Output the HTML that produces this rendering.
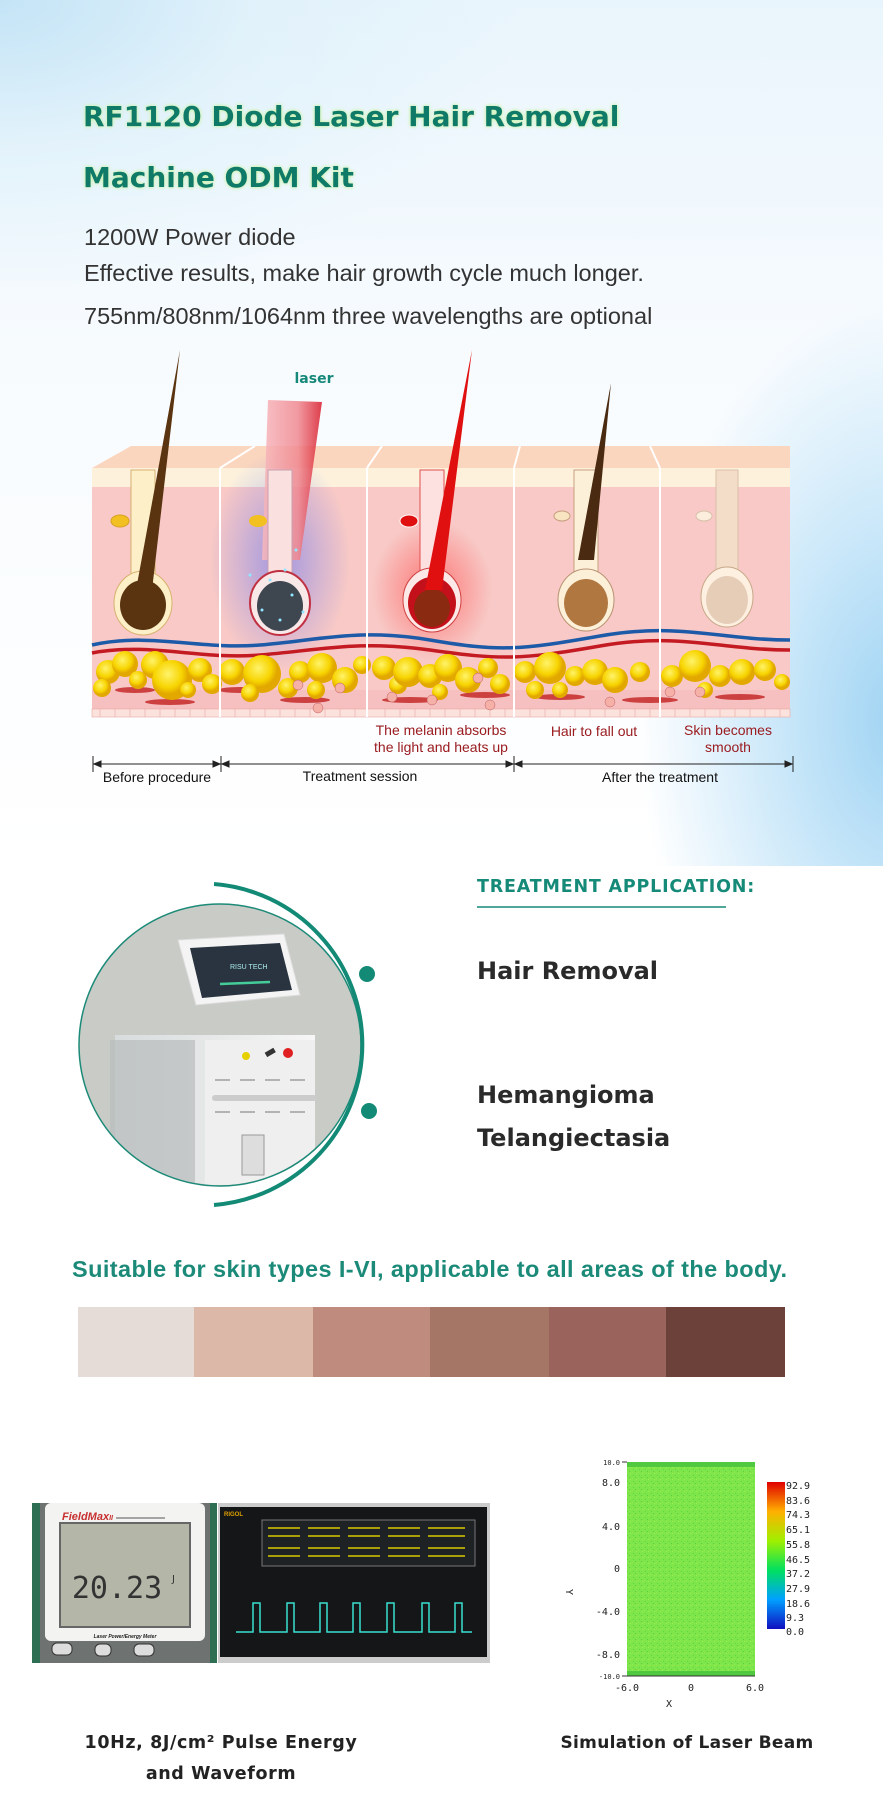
<!DOCTYPE html>
<html><head><meta charset="utf-8"><style>
html,body{margin:0;padding:0;background:#fff}
body{width:883px;height:1814px;position:relative;overflow:hidden;font-family:"Liberation Sans",sans-serif}
.t{position:absolute;white-space:nowrap}
</style></head><body>
<div style="position:absolute;left:0;top:0;width:883px;height:866px;background:
radial-gradient(ellipse 520px 300px at 0px 0px,#c4e4f6 0%,rgba(220,240,250,0.6) 50%,rgba(255,255,255,0) 100%),
radial-gradient(ellipse 260px 420px at 900px 720px,#9fd3f3 0%,#c9e7f9 45%,rgba(255,255,255,0) 100%),
linear-gradient(180deg,#e9f5fc 0%,#f7fbfe 40%,#fff 100%);"></div>

<div class="t" style="left:83px;top:100px;font:bold 28px 'DejaVu Sans',sans-serif;color:#0f7a68;text-shadow:0 0 3px #c6f0a8,0 0 4px #d8f7c0">RF1120 Diode Laser Hair Removal</div>
<div class="t" style="left:83px;top:161px;font:bold 28px 'DejaVu Sans',sans-serif;color:#0f7a68;text-shadow:0 0 3px #c6f0a8,0 0 4px #d8f7c0">Machine ODM Kit</div>
<div class="t" style="left:84px;top:224px;font-size:23.5px;color:#333">1200W Power diode</div>
<div class="t" style="left:84px;top:260px;font-size:23.5px;color:#333">Effective results, make hair growth cycle much longer.</div>
<div class="t" style="left:84px;top:303px;font-size:23.5px;color:#333">755nm/808nm/1064nm three wavelengths are optional</div>

<svg width="883" height="866" style="position:absolute;left:0;top:0">
<defs>
<radialGradient id="redglow"><stop offset="0" stop-color="#ff3030" stop-opacity=".55"/><stop offset="1" stop-color="#ff3030" stop-opacity="0"/></radialGradient>
<radialGradient id="blueglow"><stop offset="0" stop-color="#3a5cff" stop-opacity=".45"/><stop offset="1" stop-color="#3a5cff" stop-opacity="0"/></radialGradient>
<linearGradient id="beam" x1="0" x2="1"><stop offset="0" stop-color="#f7b8bd"/><stop offset=".6" stop-color="#f08890"/><stop offset="1" stop-color="#d81c2c"/></linearGradient>
<radialGradient id="fat" cx=".4" cy=".35"><stop offset="0" stop-color="#fff36a"/><stop offset=".7" stop-color="#f7d400"/><stop offset="1" stop-color="#e2a800"/></radialGradient>
</defs>
<polygon points="92,468 131,446 790,446 790,468" fill="#fbd6be"/>
<rect x="92" y="468" width="698" height="19" fill="#fdf1dc"/>
<rect x="92" y="487" width="698" height="230" fill="#f8c9c6"/>
<rect x="92" y="690" width="698" height="27" fill="#f6bfc0"/>
<rect x="92" y="709" width="698" height="8" fill="#fbe2dc" stroke="#e9a9a4" stroke-width=".6"/>
<g stroke="#e9a9a4" stroke-width=".6">
<line x1="100" y1="709" x2="100" y2="717"/><line x1="115" y1="709" x2="115" y2="717"/><line x1="130" y1="709" x2="130" y2="717"/><line x1="145" y1="709" x2="145" y2="717"/><line x1="160" y1="709" x2="160" y2="717"/><line x1="175" y1="709" x2="175" y2="717"/><line x1="190" y1="709" x2="190" y2="717"/><line x1="205" y1="709" x2="205" y2="717"/><line x1="235" y1="709" x2="235" y2="717"/><line x1="250" y1="709" x2="250" y2="717"/><line x1="265" y1="709" x2="265" y2="717"/><line x1="280" y1="709" x2="280" y2="717"/><line x1="295" y1="709" x2="295" y2="717"/><line x1="310" y1="709" x2="310" y2="717"/><line x1="325" y1="709" x2="325" y2="717"/><line x1="340" y1="709" x2="340" y2="717"/><line x1="355" y1="709" x2="355" y2="717"/><line x1="385" y1="709" x2="385" y2="717"/><line x1="400" y1="709" x2="400" y2="717"/><line x1="415" y1="709" x2="415" y2="717"/><line x1="430" y1="709" x2="430" y2="717"/><line x1="445" y1="709" x2="445" y2="717"/><line x1="460" y1="709" x2="460" y2="717"/><line x1="475" y1="709" x2="475" y2="717"/><line x1="490" y1="709" x2="490" y2="717"/><line x1="505" y1="709" x2="505" y2="717"/><line x1="530" y1="709" x2="530" y2="717"/><line x1="545" y1="709" x2="545" y2="717"/><line x1="560" y1="709" x2="560" y2="717"/><line x1="575" y1="709" x2="575" y2="717"/><line x1="590" y1="709" x2="590" y2="717"/><line x1="605" y1="709" x2="605" y2="717"/><line x1="620" y1="709" x2="620" y2="717"/><line x1="635" y1="709" x2="635" y2="717"/><line x1="650" y1="709" x2="650" y2="717"/><line x1="675" y1="709" x2="675" y2="717"/><line x1="690" y1="709" x2="690" y2="717"/><line x1="705" y1="709" x2="705" y2="717"/><line x1="720" y1="709" x2="720" y2="717"/><line x1="735" y1="709" x2="735" y2="717"/><line x1="750" y1="709" x2="750" y2="717"/><line x1="765" y1="709" x2="765" y2="717"/><line x1="780" y1="709" x2="780" y2="717"/>
</g>
<ellipse cx="432" cy="590" rx="60" ry="70" fill="url(#redglow)"/>
<ellipse cx="280" cy="560" rx="70" ry="110" fill="url(#blueglow)"/>
<path d="M92,645 C150,632 200,650 260,645 S360,628 430,640 S520,650 600,636 S720,640 790,640" stroke="#1d5aa8" stroke-width="3.5" fill="none"/>
<path d="M92,653 C150,642 200,660 260,655 S360,640 430,650 S520,660 600,646 S720,650 790,650" stroke="#c41a22" stroke-width="3.5" fill="none"/>
<g fill="#c52a2a" opacity=".85">
<ellipse cx="135" cy="690" rx="20" ry="3"/><ellipse cx="170" cy="702" rx="25" ry="3"/><ellipse cx="240" cy="690" rx="22" ry="3"/><ellipse cx="305" cy="700" rx="25" ry="3"/><ellipse cx="410" cy="700" rx="28" ry="3"/><ellipse cx="485" cy="695" rx="25" ry="3"/><ellipse cx="560" cy="697" rx="25" ry="3"/><ellipse cx="650" cy="700" rx="28" ry="3"/><ellipse cx="740" cy="697" rx="25" ry="3"/>
</g>
<g fill="url(#fat)">
<circle cx="108" cy="672" r="12"/><circle cx="125" cy="664" r="13"/><circle cx="102" cy="688" r="9"/><circle cx="138" cy="680" r="9"/><circle cx="155" cy="665" r="14"/><circle cx="172" cy="680" r="20"/><circle cx="200" cy="670" r="12"/><circle cx="212" cy="684" r="10"/><circle cx="188" cy="690" r="8"/>
<circle cx="232" cy="672" r="13"/><circle cx="262" cy="674" r="19"/><circle cx="288" cy="688" r="10"/><circle cx="300" cy="672" r="11"/><circle cx="322" cy="668" r="15"/><circle cx="345" cy="680" r="13"/><circle cx="362" cy="665" r="9"/><circle cx="250" cy="693" r="9"/><circle cx="316" cy="690" r="9"/>
<circle cx="384" cy="668" r="12"/><circle cx="398" cy="685" r="9"/><circle cx="408" cy="672" r="15"/><circle cx="430" cy="676" r="12"/><circle cx="448" cy="668" r="14"/><circle cx="468" cy="680" r="13"/><circle cx="488" cy="668" r="10"/><circle cx="500" cy="684" r="10"/><circle cx="440" cy="692" r="8"/>
<circle cx="525" cy="672" r="11"/><circle cx="550" cy="668" r="16"/><circle cx="575" cy="676" r="10"/><circle cx="595" cy="672" r="13"/><circle cx="615" cy="680" r="13"/><circle cx="640" cy="672" r="10"/><circle cx="535" cy="690" r="9"/><circle cx="560" cy="690" r="8"/>
<circle cx="672" cy="676" r="11"/><circle cx="695" cy="666" r="16"/><circle cx="720" cy="676" r="11"/><circle cx="742" cy="672" r="13"/><circle cx="765" cy="670" r="11"/><circle cx="782" cy="682" r="8"/><circle cx="705" cy="690" r="8"/>
</g>
<g fill="#f5b0a8" stroke="#c06060" stroke-width=".5">
<circle cx="298" cy="685" r="5"/><circle cx="340" cy="688" r="5"/><circle cx="318" cy="708" r="5"/><circle cx="392" cy="697" r="5"/><circle cx="432" cy="700" r="5"/><circle cx="478" cy="678" r="5"/><circle cx="490" cy="705" r="5"/><circle cx="610" cy="702" r="5"/><circle cx="670" cy="692" r="5"/><circle cx="700" cy="692" r="5"/>
</g>
<g stroke="#fff" stroke-width="2">
<line x1="220" y1="468" x2="220" y2="717"/><line x1="367" y1="468" x2="367" y2="717"/><line x1="514" y1="468" x2="514" y2="717"/><line x1="660" y1="468" x2="660" y2="717"/>
<line x1="220" y1="468" x2="255" y2="446"/><line x1="367" y1="468" x2="382" y2="446"/><line x1="514" y1="468" x2="520" y2="446"/><line x1="660" y1="468" x2="650" y2="446"/>
</g>
<g>
<rect x="131" y="470" width="24" height="110" fill="#fdf0c8" stroke="#d8b070"/>
<ellipse cx="143" cy="603" rx="29" ry="32" fill="#fdf0c8" stroke="#d8b070"/>
<ellipse cx="143" cy="605" rx="23" ry="25" fill="#5a3410"/>
<polygon points="180,350 152,590 136,590" fill="#5a3410"/>
<ellipse cx="120" cy="521" rx="9" ry="6" fill="#f2c020" stroke="#d8a020"/>
<polygon points="268,400 322,402 300,560 262,560" fill="url(#beam)" opacity=".85"/>
<rect x="268" y="470" width="24" height="110" fill="#fbe0e0" stroke="#c8a0b0"/>
<ellipse cx="280" cy="603" rx="30" ry="32" fill="#f8e8e8" stroke="#c03040" stroke-width="2"/>
<ellipse cx="280" cy="606" rx="23" ry="25" fill="#3e4650"/>
<ellipse cx="258" cy="521" rx="9" ry="6" fill="#f2c020"/>
<g fill="#8fe8ff"><circle cx="270" cy="580" r="1.5"/><circle cx="285" cy="570" r="1.5"/><circle cx="292" cy="595" r="1.5"/><circle cx="262" cy="610" r="1.5"/><circle cx="280" cy="620" r="1.5"/><circle cx="296" cy="550" r="1.5"/><circle cx="250" cy="575" r="1.5"/><circle cx="303" cy="612" r="1.5"/></g>
<rect x="420" y="470" width="24" height="110" fill="#fde0e0" stroke="#e05050"/>
<ellipse cx="432" cy="600" rx="29" ry="32" fill="#fde8e8" stroke="#d04040"/>
<ellipse cx="432" cy="603" rx="24" ry="26" fill="#c4101a"/>
<ellipse cx="432" cy="608" rx="18" ry="19" fill="#8a2a10"/>
<polygon points="472,350 442,590 425,590" fill="#e01010"/>
<ellipse cx="409" cy="521" rx="9" ry="6" fill="#e01010" stroke="#fff"/>
<rect x="574" y="470" width="24" height="110" fill="#fdf0d8" stroke="#c8a080"/>
<ellipse cx="586" cy="600" rx="28" ry="31" fill="#fdf0d8" stroke="#b89070"/>
<ellipse cx="586" cy="603" rx="22" ry="24" fill="#b07840"/>
<polygon points="611,383 594,560 578,560" fill="#4a2a10"/>
<ellipse cx="562" cy="516" rx="8" ry="5" fill="#f8e4c0" stroke="#c8a080"/>
<rect x="716" y="470" width="22" height="100" fill="#f4ddc8" stroke="#d8c0a8"/>
<ellipse cx="727" cy="597" rx="26" ry="30" fill="#fdf0e0" stroke="#c8a888"/>
<ellipse cx="727" cy="600" rx="21" ry="24" fill="#e6cdb8"/>
<ellipse cx="704" cy="516" rx="8" ry="5" fill="#fbeedd" stroke="#d8c0a8"/>
</g>
<text x="314" y="383" font-family="DejaVu Sans" font-weight="bold" font-size="14" fill="#16887a" text-anchor="middle">laser</text>
<g font-family="Liberation Sans" font-size="14" fill="#9a1c20" text-anchor="middle">
<text x="441" y="735">The melanin absorbs</text><text x="441" y="752">the light and heats up</text>
<text x="594" y="736">Hair to fall out</text>
<text x="728" y="735">Skin becomes</text><text x="728" y="752">smooth</text>
</g>
<g stroke="#222" stroke-width="1" fill="#222">
<line x1="93" y1="764" x2="793" y2="764"/>
<line x1="93" y1="756" x2="93" y2="772"/><line x1="221" y1="756" x2="221" y2="772"/><line x1="514" y1="756" x2="514" y2="772"/><line x1="793" y1="756" x2="793" y2="772"/>
<polygon points="94,764 101,761 101,767"/><polygon points="220,764 213,761 213,767"/><polygon points="222,764 229,761 229,767"/><polygon points="513,764 506,761 506,767"/><polygon points="515,764 522,761 522,767"/><polygon points="792,764 785,761 785,767"/>
</g>
<g font-family="Liberation Sans" font-size="14" fill="#111" text-anchor="middle">
<text x="157" y="782">Before procedure</text><text x="360" y="781">Treatment session</text><text x="660" y="782">After the treatment</text>
</g>
</svg>

<svg width="883" height="420" style="position:absolute;left:0;top:860px">
<defs><clipPath id="cc"><circle cx="220" cy="185" r="140"/></clipPath>
<linearGradient id="mach" x1="0" x2="1"><stop offset="0" stop-color="#d8dcdc"/><stop offset="1" stop-color="#f6f6f6"/></linearGradient></defs>
<circle cx="220" cy="185" r="141" fill="#c9cbc6" stroke="#1c8a78" stroke-width="1.5"/>
<g clip-path="url(#cc)">
<polygon points="178,80 284,74 300,135 196,145" fill="#f4f4f4" stroke="#ddd"/>
<polygon points="190,88 280,83 292,130 202,138" fill="#2a3440"/>
<text x="230" y="109" font-family="Liberation Sans" font-size="7" fill="#aee">RISU TECH</text>
<line x1="220" y1="124" x2="270" y2="122" stroke="#4c9" stroke-width="2.5"/>
<rect x="115" y="175" width="200" height="190" fill="url(#mach)"/>
<rect x="205" y="180" width="110" height="180" fill="#efefef"/>
<rect x="110" y="180" width="85" height="190" fill="#b8bcbc" opacity=".7"/>
<g stroke="#777" stroke-width="1"><line x1="215" y1="220" x2="230" y2="220"/><line x1="240" y1="220" x2="255" y2="220"/><line x1="265" y1="220" x2="280" y2="220"/><line x1="290" y1="220" x2="305" y2="220"/><line x1="215" y1="252" x2="230" y2="252"/><line x1="240" y1="252" x2="255" y2="252"/><line x1="265" y1="252" x2="280" y2="252"/><line x1="290" y1="252" x2="305" y2="252"/></g>
<rect x="212" y="235" width="105" height="6" rx="3" fill="#ccc"/>
<rect x="242" y="275" width="22" height="40" fill="#ddd" stroke="#999"/>
<circle cx="288" cy="193" r="5" fill="#e02020"/><rect x="265" y="190" width="10" height="5" fill="#333" transform="rotate(-30 270 192)"/><circle cx="246" cy="196" r="4" fill="#e6d000"/>
</g>
<path d="M214,24 A161,161 0 0 1 214,345" stroke="#138a76" stroke-width="4" fill="none"/>
<circle cx="367" cy="114" r="8" fill="#138a76"/><circle cx="369" cy="251" r="8" fill="#138a76"/>
<line x1="477" y1="47" x2="726" y2="47" stroke="#138a76" stroke-width="1.5"/>
</svg>
<div class="t" style="left:477px;top:877px;font:bold 17.5px 'DejaVu Sans',sans-serif;letter-spacing:.8px;color:#168a78">TREATMENT APPLICATION:</div>
<div class="t" style="left:477px;top:957px;font:bold 24px 'DejaVu Sans',sans-serif;color:#2a2a2a">Hair Removal</div>
<div class="t" style="left:477px;top:1081px;font:bold 24px 'DejaVu Sans',sans-serif;color:#2a2a2a">Hemangioma</div>
<div class="t" style="left:477px;top:1124px;font:bold 24px 'DejaVu Sans',sans-serif;color:#2a2a2a">Telangiectasia</div>

<div class="t" style="left:72px;top:1256px;font:bold 23.5px 'Liberation Sans',sans-serif;color:#1b8a78;letter-spacing:.4px">Suitable for skin types I-VI, applicable to all areas of the body.</div>
<div style="position:absolute;left:78px;top:1307px;height:70px;width:707px;display:flex">
<div style="width:116px;background:#e5dcd7"></div><div style="width:119px;background:#dcb8a8"></div><div style="width:117px;background:#bf8b7e"></div><div style="width:119px;background:#a57566"></div><div style="width:117px;background:#9a635b"></div><div style="width:119px;background:#6b413a"></div>
</div>

<svg width="883" height="320" style="position:absolute;left:0;top:1490px">
<rect x="32" y="13" width="185" height="160" fill="#2e6e52"/>
<rect x="40" y="13" width="170" height="160" fill="#6e7270"/>
<rect x="45" y="13" width="160" height="138" rx="6" fill="#f3f3f2"/>
<text x="62" y="30" font-family="Liberation Sans" font-style="italic" font-weight="bold" font-size="11" fill="#c83030">FieldMax<tspan font-size="7">II</tspan></text>
<line x1="116" y1="28" x2="165" y2="28" stroke="#555"/>
<rect x="60" y="33" width="130" height="104" fill="#b4b6a8" stroke="#666" stroke-width="2"/>
<text x="117" y="108" font-family="DejaVu Sans Mono" font-size="30" fill="#333" text-anchor="middle">20.23</text>
<text x="172" y="92" font-family="DejaVu Sans" font-size="10" fill="#333">J</text>
<text x="125" y="148" font-family="Liberation Sans" font-style="italic" font-weight="bold" font-size="5" fill="#222" text-anchor="middle">Laser Power/Energy Meter</text>
<rect x="52" y="153" width="20" height="12" rx="5" fill="#ddd" stroke="#333"/><rect x="95" y="154" width="16" height="12" rx="5" fill="#ddd" stroke="#333"/><rect x="134" y="154" width="20" height="12" rx="5" fill="#ddd" stroke="#333"/>
<rect x="218" y="13" width="272" height="160" fill="#ccc"/>
<rect x="220" y="17" width="267" height="150" fill="#141618"/>
<text x="224" y="26" font-family="Liberation Sans" font-weight="bold" font-size="6" fill="#e0a000">RIGOL</text>
<rect x="262" y="30" width="213" height="46" fill="#1e2224" stroke="#777"/>
<g stroke="#d8c800" stroke-width="1.5"><line x1="268" y1="38" x2="300" y2="38"/><line x1="308" y1="38" x2="340" y2="38"/><line x1="348" y1="38" x2="380" y2="38"/><line x1="388" y1="38" x2="420" y2="38"/><line x1="428" y1="38" x2="465" y2="38"/><line x1="268" y1="46" x2="300" y2="46"/><line x1="308" y1="46" x2="340" y2="46"/><line x1="348" y1="46" x2="380" y2="46"/><line x1="388" y1="46" x2="420" y2="46"/><line x1="428" y1="46" x2="465" y2="46"/><line x1="268" y1="58" x2="300" y2="58"/><line x1="308" y1="58" x2="340" y2="58"/><line x1="348" y1="58" x2="380" y2="58"/><line x1="388" y1="58" x2="420" y2="58"/><line x1="428" y1="58" x2="465" y2="58"/><line x1="268" y1="66" x2="300" y2="66"/><line x1="308" y1="66" x2="340" y2="66"/><line x1="348" y1="66" x2="380" y2="66"/><line x1="388" y1="66" x2="420" y2="66"/><line x1="428" y1="66" x2="465" y2="66"/></g>
<polyline points="236,142 253,142 253,113 260,113 260,142 287,142 287,113 294,113 294,142 320,142 320,113 327,113 327,142 353,142 353,113 360,113 360,142 387,142 387,113 394,113 394,142 422,142 422,113 429,113 429,142 455,142 455,113 462,113 462,142 472,142" stroke="#39e0d0" stroke-width="1.5" fill="none"/>
</svg>

<svg width="300" height="260" style="position:absolute;left:560px;top:1455px">
<defs><linearGradient id="cb" x1="0" y1="1" x2="0" y2="0"><stop offset="0" stop-color="#1010c0"/><stop offset=".2" stop-color="#00a0ff"/><stop offset=".4" stop-color="#00e060"/><stop offset=".6" stop-color="#a0f000"/><stop offset=".8" stop-color="#ffb000"/><stop offset="1" stop-color="#e00000"/></linearGradient>
<pattern id="noise" width="6" height="6" patternUnits="userSpaceOnUse"><rect width="6" height="6" fill="#7ee64a"/><rect x="1" y="2" width="1" height="1" fill="#5ed840"/><rect x="4" y="0" width="1" height="1" fill="#a0ee50"/><rect x="3" y="4" width="1" height="1" fill="#5ad040"/><rect x="0" y="5" width="1" height="1" fill="#98ea4c"/></pattern></defs>
<rect x="67" y="7" width="128" height="214" fill="url(#noise)"/>
<rect x="67" y="7" width="128" height="5" fill="#50c840"/>
<rect x="67" y="216" width="128" height="5" fill="#50c840"/>
<line x1="62" y1="7" x2="67" y2="7" stroke="#333"/><line x1="62" y1="221" x2="67" y2="221" stroke="#333"/>
<line x1="67" y1="221" x2="195" y2="221" stroke="#333"/>
<g font-family="DejaVu Sans Mono" font-size="10" fill="#222" text-anchor="end">
<text x="60" y="10" font-size="7">10.0</text><text x="60" y="31">8.0</text><text x="60" y="75">4.0</text><text x="60" y="117">0</text><text x="60" y="160">-4.0</text><text x="60" y="203">-8.0</text><text x="60" y="224" font-size="7">-10.0</text>
</g>
<g font-family="DejaVu Sans Mono" font-size="10" fill="#222" text-anchor="middle">
<text x="67" y="236">-6.0</text><text x="131" y="236">0</text><text x="195" y="236">6.0</text><text x="109" y="252">X</text>
<text x="6" y="137" transform="rotate(90 6 137)">Y</text>
</g>
<rect x="207" y="27" width="18" height="147" fill="url(#cb)"/>
<g font-family="DejaVu Sans Mono" font-size="10" fill="#222">
<text x="226" y="34">92.9</text><text x="226" y="49">83.6</text><text x="226" y="63">74.3</text><text x="226" y="78">65.1</text><text x="226" y="93">55.8</text><text x="226" y="108">46.5</text><text x="226" y="122">37.2</text><text x="226" y="137">27.9</text><text x="226" y="152">18.6</text><text x="226" y="166">9.3</text><text x="226" y="180">0.0</text>
</g>
</svg>

<div class="t" style="left:0;width:442px;text-align:center;top:1733px;font:bold 17.5px 'DejaVu Sans',sans-serif;letter-spacing:.6px;color:#222">10Hz, 8J/cm² Pulse Energy</div>
<div class="t" style="left:0;width:442px;text-align:center;top:1764px;font:bold 17.5px 'DejaVu Sans',sans-serif;letter-spacing:.6px;color:#222">and Waveform</div>
<div class="t" style="left:560px;width:254px;text-align:center;top:1733px;font:bold 17px 'DejaVu Sans',sans-serif;letter-spacing:.3px;color:#222">Simulation of Laser Beam</div>
</body></html>
